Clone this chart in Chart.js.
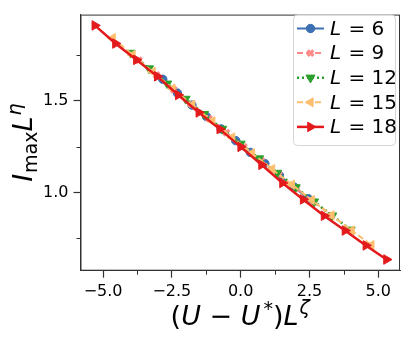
<!DOCTYPE html>
<html>
<head>
<meta charset="utf-8">
<script src="https://cdn.jsdelivr.net/npm/chart.js@4"></script>
<style>
  html, body { margin: 0; padding: 0; background: #fff; }
  #c { display: block; }
</style>
</head>
<body>
<canvas id="c" width="411" height="343"></canvas>
<script>
// ---- data ----
const sizes = [6, 9, 12, 15, 18];

const x6  = [-2.83, -2.30, -1.77, -1.24, -0.71, -0.18, 0.35, 0.88, 1.41, 1.94, 2.46];
const y6  = [1.618, 1.543, 1.477, 1.414, 1.347, 1.283, 1.219, 1.158, 1.093, 1.030, 0.966];

const x9  = [-3.70, -3.06, -2.43, -1.79, -1.15, -0.52, 0.12, 0.75, 1.39, 2.03, 2.66, 3.30];
const y9  = [1.722, 1.641, 1.561, 1.482, 1.403, 1.326, 1.249, 1.173, 1.097, 1.022, 0.948, 0.874];

const x12 = [-4.00, -3.33, -2.67, -2.00, -1.33, -0.67, 0.00, 0.67, 1.33, 2.00, 2.67, 3.33, 4.00];
const y12 = [1.762, 1.677, 1.594, 1.511, 1.428, 1.347, 1.266, 1.186, 1.107, 1.028, 0.950, 0.874, 0.797];

const x15 = [-4.65, -3.93, -3.20, -2.48, -1.76, -1.03, -0.31, 0.41, 1.14, 1.86, 2.58, 3.30, 4.03, 4.75];
const y15 = [1.843, 1.751, 1.659, 1.568, 1.479, 1.389, 1.301, 1.215, 1.128, 1.043, 0.959, 0.876, 0.793, 0.713];

const x18 = [-5.30, -4.55, -3.79, -3.03, -2.27, -1.52, -0.76, 0.00, 0.76, 1.52, 2.27, 3.03, 3.79, 4.55, 5.30];
const y18 = [1.912, 1.813, 1.724, 1.634, 1.532, 1.437, 1.346, 1.249, 1.151, 1.052, 0.962, 0.873, 0.792, 0.711, 0.634];

const xTicks = [-5.0, -2.5, 0.0, 2.5, 5.0];
const xMinor = [-3.75, -1.25, 1.25, 3.75];
const yTicks = [1.0, 1.5];
const yMinor = [0.75, 1.25, 1.75];

// ---- styles ----
const FONT = "'DejaVu Sans', sans-serif";
const series = [
  { xs: x6,  ys: y6,  color: '#3b70b4', style: 'circle',   rot: 0,   r: 4.2, bw: 1,   lw: 2,   dash: [] },
  { xs: x9,  ys: y9,  color: '#fb8a89', style: 'crossRot', rot: 0,   r: 4,   bw: 3.2, lw: 2,   dash: [6, 3] },
  { xs: x12, ys: y12, color: '#2ca02c', style: 'triangle', rot: 180, r: 5.2, bw: 1,   lw: 2.5, dash: [2, 3] },
  { xs: x15, ys: y15, color: '#fdbf6f', style: 'triangle', rot: 270, r: 5.2, bw: 1,   lw: 2,   dash: [6, 3] },
  { xs: x18, ys: y18, color: '#e31a1c', style: 'triangle', rot: 90,  r: 5.5, bw: 1,   lw: 2.5, dash: [] }
];

const datasets = series.map((s, i) => ({
  label: 'L = ' + sizes[i],
  data: s.xs.map((x, k) => ({ x: x, y: s.ys[k] })),
  borderColor: s.color,
  backgroundColor: s.color,
  borderWidth: s.lw,
  borderDash: s.dash,
  pointStyle: s.style,
  pointRotation: s.rot,
  pointRadius: s.r,
  pointBorderWidth: s.bw,
  pointBackgroundColor: s.color,
  pointBorderColor: s.color,
  tension: 0,
  order: series.length - i
}));

// draw text runs in sequence: [{t, font, dy}]
function drawRuns(ctx, runs, x, y) {
  let total = 0;
  runs.forEach(r => { ctx.font = r.font; r.w = ctx.measureText(r.t).width; total += r.w + (r.gap || 0); });
  let cx = x - total / 2;
  runs.forEach(r => {
    ctx.font = r.font;
    ctx.fillText(r.t, cx, y + (r.dy || 0));
    cx += r.w + (r.gap || 0);
  });
}

const extras = {
  id: 'extras',
  afterDraw(chart) {
    const ctx = chart.ctx;
    const a = chart.chartArea;
    const xs = chart.scales.x, ys = chart.scales.y;
    ctx.save();

    // frame
    ctx.strokeStyle = '#333';
    ctx.lineWidth = 1;
    ctx.strokeRect(a.left + 0.5, a.top + 0.5, a.right - a.left - 1, a.bottom - a.top - 1);

    // minor ticks
    ctx.beginPath();
    xMinor.forEach(v => {
      const p = Math.round(xs.getPixelForValue(v)) + 0.5;
      ctx.moveTo(p, a.bottom); ctx.lineTo(p, a.bottom + 4);
    });
    yMinor.forEach(v => {
      const p = Math.round(ys.getPixelForValue(v)) + 0.5;
      ctx.moveTo(a.left, p); ctx.lineTo(a.left - 4, p);
    });
    ctx.stroke();

    // axis titles
    ctx.fillStyle = '#000';
    ctx.textBaseline = 'alphabetic';
    ctx.textAlign = 'left';
    const big = '27px ' + FONT, bigI = 'italic 27px ' + FONT;
    const sm = '19px ' + FONT, smI = 'italic 19px ' + FONT;
    drawRuns(ctx, [
      { t: '(', font: big },
      { t: 'U', font: bigI },
      { t: ' \u2212 ', font: big },
      { t: 'U', font: bigI, gap: 3 },
      { t: '*', font: sm, dy: -10 },
      { t: ')', font: big },
      { t: 'L', font: bigI, gap: 1 },
      { t: '\u03b6', font: smI, dy: -11 }
    ], (a.left + a.right) / 2, 325);

    ctx.save();
    ctx.translate(32, (a.top + a.bottom) / 2);
    ctx.rotate(-Math.PI / 2);
    drawRuns(ctx, [
      { t: 'I', font: bigI, gap: 1 },
      { t: 'max', font: sm, dy: 5 },
      { t: 'L', font: bigI, gap: 1 },
      { t: '\u03b7', font: smI, dy: -11 }
    ], 0, 0);
    ctx.restore();

    // legend
    const bx = 293, by = 14.5, bw = 102, bh = 130.5;
    ctx.beginPath();
    ctx.roundRect(bx + 0.5, by + 0.5, bw, bh, 4);
    ctx.fillStyle = 'rgba(255,255,255,0.85)';
    ctx.fill();
    ctx.strokeStyle = '#d5d5d5';
    ctx.lineWidth = 1;
    ctx.stroke();

    series.forEach((s, i) => {
      const ly = 28.5 + i * 24.6;
      ctx.save();
      ctx.strokeStyle = s.color;
      ctx.lineWidth = s.lw;
      ctx.setLineDash(s.dash);
      ctx.beginPath();
      ctx.moveTo(297, ly); ctx.lineTo(324, ly);
      ctx.stroke();
      ctx.setLineDash([]);
      ctx.fillStyle = s.color;
      ctx.strokeStyle = s.color;
      ctx.lineWidth = s.bw;
      Chart.helpers.drawPoint(ctx, { pointStyle: s.style, rotation: s.rot, radius: s.r, borderWidth: s.bw }, 310.5, ly);
      ctx.restore();

      ctx.fillStyle = '#000';
      ctx.textBaseline = 'middle';
      ctx.font = 'italic 20px ' + FONT;
      ctx.fillText('L', 330, ly + 1);
      const w = ctx.measureText('L').width;
      ctx.font = '20px ' + FONT;
      ctx.fillText(' = ' + sizes[i], 330 + w + 1, ly + 1);
    });

    ctx.restore();
  }
};

const fmt = v => (v < 0 ? '\u2212' : '') + Math.abs(v).toFixed(1);

new Chart(document.getElementById('c'), {
  type: 'line',
  data: { datasets: datasets },
  options: {
    responsive: false,
    animation: false,
    devicePixelRatio: 1,
    layout: { padding: { left: 0, right: 11, top: 10.5, bottom: 0 } },
    plugins: { legend: { display: false }, tooltip: { enabled: false } },
    scales: {
      x: {
        type: 'linear',
        min: -5.82,
        max: 5.79,
        afterBuildTicks: s => { s.ticks = xTicks.map(v => ({ value: v })); },
        afterFit: s => { s.height = 72.3; },
        ticks: { callback: fmt, color: '#000', font: { family: FONT, size: 16 }, padding: 5, maxRotation: 0 },
        grid: { drawOnChartArea: false, tickLength: 7, color: '#333', tickWidth: 1.2 },
        border: { display: true, color: '#333', width: 1 }
      },
      y: {
        type: 'linear',
        min: 0.573,
        max: 1.971,
        afterBuildTicks: s => { s.ticks = yTicks.map(v => ({ value: v })); },
        afterFit: s => { s.width = 80.5; },
        ticks: { callback: fmt, color: '#000', font: { family: FONT, size: 16 }, padding: 5 },
        grid: { drawOnChartArea: false, tickLength: 7, color: '#333', tickWidth: 1.2 },
        border: { display: true, color: '#333', width: 1 }
      }
    }
  },
  plugins: [extras]
});
</script>
</body>
</html>
